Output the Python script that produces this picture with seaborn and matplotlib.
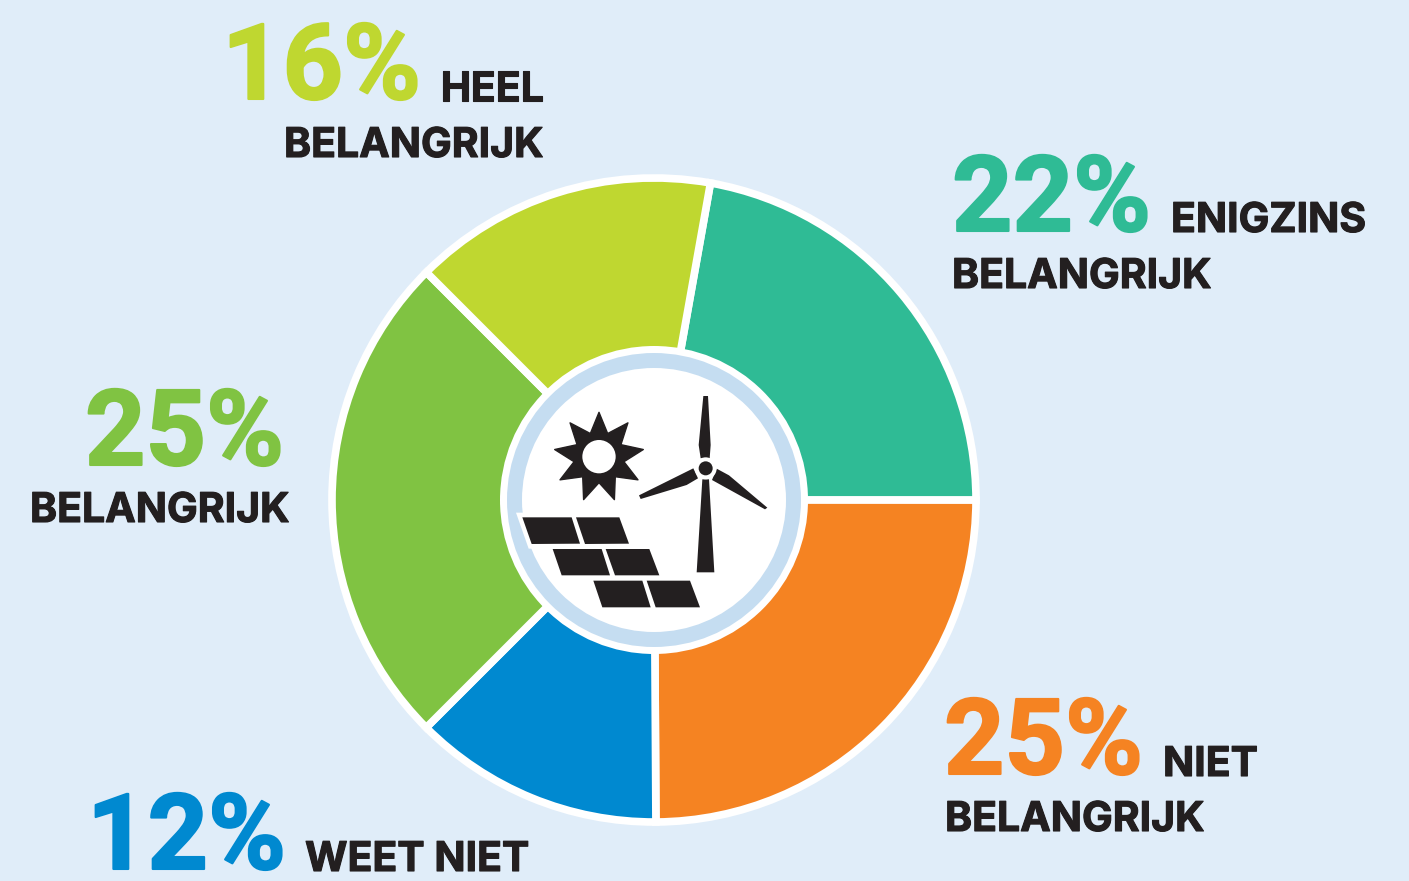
# -*- coding: utf-8 -*-
import numpy as np
import matplotlib
matplotlib.use('Agg')
import matplotlib.pyplot as plt
import matplotlib.patheffects as pe
from matplotlib.patches import Circle, Polygon
import seaborn as sns

# =============================================
# Data
categories = ['ENIGZINS', 'NIET', 'WEET NIET', '', 'HEEL']
percent_labels = [22, 25, 12, 25, 16]
arc_shares = [22.2, 24.9, 12.6, 25, 15.3]  # the slices as drawn, not quite the printed numbers
slice_colors = ['#2FBB95', '#F58322', '#0089D0', '#80C342', '#BFD730']
word_belangrijk = 'BELANGRIJK'

# =============================================
# Plot settings (pixels of the 1409x881 picture)
bg_color = '#E0EDF9'
ring_color = '#C5DDF1'
dark = '#231F20'
cx, cy = 654, 500
H = 881

# left x of number, baseline of number, left x of word, baseline of word, left x + baseline of 2nd line
label_pos = [(952, 231, 1171, 232, 952, 288),
             (944, 774, 1163, 776, 945, 831),
             (87, 869, 305, 871, None, None),
             (85, 465, None, None, 30, 522),
             (222, 99, 440, 101, 284, 157)]

sns.set_theme(style="white")
plt.rcParams['font.family'] = ['Roboto', 'DejaVu Sans']

f, ax = plt.subplots(figsize=(14.09, 8.81), dpi=100)
f.patch.set_facecolor(bg_color)
ax.set_position([0, 0, 1, 1])


def zoomed(points):
    # icon outlines were measured on a crop at 3x starting at (490, 340)
    return [(x / 3 + 490, H - (y / 3 + 340)) for x, y in points]


# =============================================
# Donut
ax.pie(arc_shares, colors=sns.color_palette(slice_colors), startangle=79.9, counterclock=False,
       center=(cx, H - cy), radius=322,
       wedgeprops={'edgecolor': 'white', 'linewidth': 5.5})
ax.set_xlim(0, 1409)
ax.set_ylim(0, H)
ax.set_aspect('equal')
ax.set_axis_off()

ax.add_patch(Circle((cx, H - cy), 154, fc='white', ec='none', zorder=3))
ax.add_patch(Circle((cx, H - cy), 147, fc=ring_color, ec='none', zorder=3))
ax.add_patch(Circle((cx, H - cy), 132, fc='white', ec='none', zorder=3))

# =============================================
# Icons in the middle
# white notch the solar panels cut out of the ring
ax.add_patch(Polygon(zoomed([(78, 518), (110, 518), (150, 626), (116, 626)]), fc='white', ec='none', zorder=4))

panels = [[(97, 532), (245, 532), (270, 611), (125, 612)], [(258, 532), (388, 532), (417, 611), (285, 612)],
          [(188, 627), (335, 627), (360, 706), (215, 706)], [(347, 627), (478, 627), (508, 706), (375, 706)],
          [(310, 722), (457, 722), (482, 802), (337, 802)], [(470, 722), (600, 722), (630, 802), (497, 802)]]
for p in panels:
    ax.add_patch(Polygon(zoomed(p), fc=dark, ec='none', zorder=5))

# sun
n_rays = 9
angles = np.pi / 2 - np.arange(2 * n_rays) * np.pi / n_rays
radii = np.where(np.arange(2 * n_rays) % 2 == 0, 135, 76)
sun = [(327 + r * np.cos(a), 352 - r * np.sin(a)) for r, a in zip(radii, angles)]
ax.add_patch(Polygon(zoomed(sun), fc=dark, ec=dark, lw=1, joinstyle='round', zorder=5))
hub = zoomed([(327, 350)])[0]
ax.add_patch(Circle(hub, 50 / 3, fc='white', ec='none', zorder=6))

# wind turbine
tower = [(637, 418), (657, 418), (673, 697), (620, 697)]
blade_up = [(640, 168), (654, 168), (662, 315), (659, 355), (632, 355), (626, 315)]
blade_left = [(447, 466), (610, 385), (624, 415), (590, 435), (452, 477)]
blade_right = [(832, 503), (825, 508), (666, 420), (680, 386), (717, 406)]
for part in [tower, blade_up, blade_left, blade_right]:
    ax.add_patch(Polygon(zoomed(part), fc=dark, ec='none', zorder=5))
hub = zoomed([(647, 385)])[0]
ax.add_patch(Circle(hub, 33 / 3, fc='white', ec='none', zorder=6))
ax.add_patch(Circle(hub, 21 / 3, fc=dark, ec='none', zorder=7))

# =============================================
# Labels
for pct, word, col, pos in zip(percent_labels, categories, slice_colors, label_pos):
    x_num, y_num, x_word, y_word, x_second, y_second = pos
    t = ax.text(x_num, H - y_num, '%d%%' % pct, color=col, fontsize=76, fontweight='bold',
                ha='left', va='baseline', zorder=8)
    t.set_path_effects([pe.withStroke(linewidth=1.5, foreground=col)])
    if x_word is not None:
        t = ax.text(x_word, H - y_word, word, color=dark, fontsize=29.5, fontweight='bold',
                    family=['Inter', 'DejaVu Sans'], ha='left', va='baseline', zorder=8)
        t.set_path_effects([pe.withStroke(linewidth=0.8, foreground=dark)])
    if x_second is not None:
        t = ax.text(x_second, H - y_second, word_belangrijk, color=dark, fontsize=29.5, fontweight='bold',
                    family=['Inter', 'DejaVu Sans'], ha='left', va='baseline', zorder=8)
        t.set_path_effects([pe.withStroke(linewidth=0.8, foreground=dark)])

plt.savefig('out.png', dpi=100, facecolor=f.get_facecolor())
plt.close()
